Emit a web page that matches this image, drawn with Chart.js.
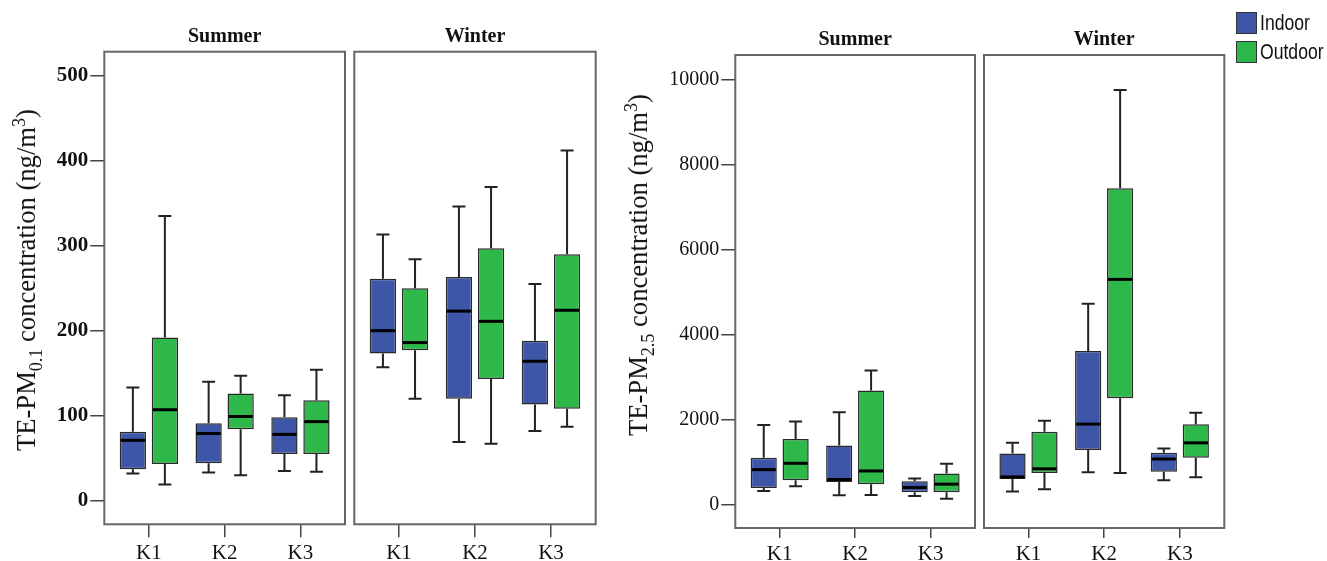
<!DOCTYPE html>
<html lang="en">
<head>
<meta charset="UTF-8" />
<title>TE-PM concentration by site and season</title>
<script src="https://cdn.jsdelivr.net/npm/chart.js"></script>
<style>
  body { margin: 0; background: #fff; }
  .page { position: relative; width: 1327px; height: 561px; overflow: hidden; font-family: 'Liberation Serif', 'Times New Roman', serif; color: #111; }
  .page canvas { position: absolute; left: 0; top: 0; }
  .ytitle {
    position: absolute; white-space: nowrap; font-size: 28px; line-height: 1;
    transform: translate(-50%, -50%) rotate(-90deg) scaleX(0.95);
  }
  .ytitle sub, .ytitle sup { font-size: 0.68em; line-height: 0; }
  .legend { position: absolute; left: 1236px; top: 12px; font-family: 'Liberation Sans', Arial, sans-serif; }
  .legend .item { display: flex; align-items: center; height: 22px; margin-bottom: 7px; }
  .legend .swatch { width: 19px; height: 20px; border: 1.5px solid #333; }
  .legend .lbl { font-size: 22px; margin-left: 3px; transform: scaleX(0.8); transform-origin: left center; }
</style>
</head>
<body>
<div class="page">
  <canvas id="pm01Summer" width="1327" height="561"></canvas>
  <canvas id="pm01Winter" width="1327" height="561"></canvas>
  <canvas id="pm25Summer" width="1327" height="561"></canvas>
  <canvas id="pm25Winter" width="1327" height="561"></canvas>
  <div class="ytitle" style="left:26px; top:280px">TE-PM<sub>0.1</sub> concentration (ng/m<sup>3</sup>)</div>
  <div class="ytitle" style="left:638px; top:265px">TE-PM<sub>2.5</sub> concentration (ng/m<sup>3</sup>)</div>
  <div class="legend">
    <div class="item"><span class="swatch" style="background:#3e56a7"></span><span class="lbl">Indoor</span></div>
    <div class="item"><span class="swatch" style="background:#2eb84a"></span><span class="lbl">Outdoor</span></div>
  </div>
</div>

<script>
  const sites = ['K1', 'K2', 'K3']
  const pm01Ticks = [0, 100, 200, 300, 400, 500]
  const pm25Ticks = [0, 2000, 4000, 6000, 8000, 10000]

  // each row: [min, q1, median, q3, max] for K1, K2, K3
  const pm01SummerIndoor = [[32, 37, 71, 81, 133], [33, 44, 79, 91, 140], [35, 55, 78, 98, 124]]
  const pm01SummerOutdoor = [[19, 43, 107, 192, 335], [30, 84, 99, 126, 147], [34, 55, 93, 118, 154]]
  const pm01WinterIndoor = [[157, 173, 200, 261, 313], [69, 120, 223, 263, 346], [82, 113, 164, 188, 255]]
  const pm01WinterOutdoor = [[120, 177, 186, 250, 284], [67, 143, 211, 297, 369], [87, 108, 224, 290, 412]]

  const pm25SummerIndoor = [[330, 400, 830, 1110, 1880], [230, 540, 600, 1400, 2180], [210, 300, 410, 560, 620]]
  const pm25SummerOutdoor = [[440, 580, 980, 1550, 1960], [235, 490, 800, 2690, 3160], [150, 300, 490, 740, 970]]
  const pm25WinterIndoor = [[320, 610, 660, 1210, 1460], [770, 1290, 1900, 3620, 4730], [580, 780, 1080, 1230, 1330]]
  const pm25WinterOutdoor = [[370, 750, 850, 1720, 1980], [750, 2510, 5300, 7440, 9750], [650, 1110, 1460, 1900, 2170]]

  const indoorColor = '#3e56a7'
  const outdoorColor = '#2eb84a'
  const serif = "'Liberation Serif', 'Times New Roman', serif"

  // whiskers, caps and median lines on top of the floating bars
  const boxParts = {
    id: 'boxParts',
    afterDatasetsDraw(chart) {
      const ctx = chart.ctx
      const y = chart.scales.y
      ctx.save()
      chart.data.datasets.forEach((ds, di) => {
        chart.getDatasetMeta(di).data.forEach((bar, i) => {
          const [lo, q1, med, q3, hi] = ds.stats[i]
          const x = bar.x
          const half = bar.width / 2
          ctx.strokeStyle = '#222'
          ctx.lineWidth = 2
          ctx.beginPath()
          ctx.moveTo(x, y.getPixelForValue(q3))
          ctx.lineTo(x, y.getPixelForValue(hi))
          ctx.moveTo(x - 6.5, y.getPixelForValue(hi))
          ctx.lineTo(x + 6.5, y.getPixelForValue(hi))
          ctx.moveTo(x, y.getPixelForValue(q1))
          ctx.lineTo(x, y.getPixelForValue(lo))
          ctx.moveTo(x - 6.5, y.getPixelForValue(lo))
          ctx.lineTo(x + 6.5, y.getPixelForValue(lo))
          ctx.stroke()
          ctx.strokeStyle = '#000'
          ctx.lineWidth = 3
          ctx.beginPath()
          ctx.moveTo(x - half + 1, y.getPixelForValue(med))
          ctx.lineTo(x + half - 1, y.getPixelForValue(med))
          ctx.stroke()
        })
      })
      ctx.restore()
    },
  }

  // full rectangle round each panel
  const panelFrame = {
    id: 'panelFrame',
    afterDraw(chart) {
      const { left, top, width, height } = chart.chartArea
      const ctx = chart.ctx
      ctx.save()
      ctx.strokeStyle = '#666'
      ctx.lineWidth = 2
      ctx.strokeRect(left, top, width, height)
      ctx.restore()
    },
  }

  function boxDataset(label, stats, color) {
    return {
      label: label,
      stats: stats,
      data: stats.map((s, i) => ({ x: i, y: [s[1], s[3]] })),
      backgroundColor: color,
      borderColor: '#2a2a2a',
      borderWidth: 1.5,
      borderSkipped: false,
      categoryPercentage: 0.845,
      barPercentage: 0.82,
    }
  }

  function makePanel(id, p) {
    return new Chart(document.getElementById(id), {
      type: 'bar',
      data: {
        datasets: [boxDataset('Indoor', p.indoor, indoorColor), boxDataset('Outdoor', p.outdoor, outdoorColor)],
      },
      plugins: [boxParts, panelFrame],
      options: {
        responsive: false,
        animation: false,
        events: [],
        layout: { padding: { left: p.padLeft, right: p.padRight, top: 0, bottom: 0 } },
        plugins: {
          legend: { display: false },
          tooltip: { enabled: false },
          title: {
            display: true,
            text: p.title,
            fullSize: false,
            color: '#111',
            font: { family: serif, size: 20, weight: 'bold' },
            padding: { top: p.titleTop, bottom: p.titleBottom },
          },
        },
        scales: {
          x: {
            type: 'linear',
            offset: false,
            min: -0.588,
            max: 2.588,
            afterBuildTicks: (s) => {
              s.ticks = sites.map((_, i) => ({ value: i }))
            },
            afterFit: (s) => {
              s.height = p.xHeight
            },
            ticks: {
              callback: (v) => sites[v],
              color: '#111',
              font: { family: serif, size: 21 },
              padding: 4,
              maxRotation: 0,
              autoSkip: false,
            },
            grid: { offset: false, drawOnChartArea: false, tickLength: p.xTick, color: '#444', lineWidth: 1.5 },
            border: { display: false },
          },
          y: {
            display: p.showY,
            min: p.yMin,
            max: p.yMax,
            afterBuildTicks: (s) => {
              s.ticks = p.yTicks.map((v) => ({ value: v }))
            },
            afterFit: (s) => {
              s.width = p.yWidth
            },
            ticks: {
              callback: (v) => String(v),
              color: '#111',
              font: { family: serif, size: p.yFont, weight: p.yWeight },
              padding: 2,
            },
            grid: { drawOnChartArea: false, tickLength: 14, color: '#444', lineWidth: 1.5 },
            border: { display: false },
          },
        },
      },
    })
  }

  const pm01Range = { yMin: -27.8, yMax: 528.2, yTicks: pm01Ticks, yFont: 21, yWeight: 'bold', titleTop: 24.5, titleBottom: 3.2, xHeight: 36.7, xTick: 13 }
  const pm25Range = { yMin: -540, yMax: 10571, yTicks: pm25Ticks, yFont: 20, yWeight: 'normal', titleTop: 28, titleBottom: 3, xHeight: 33, xTick: 10 }

  makePanel('pm01Summer', { ...pm01Range, title: 'Summer', indoor: pm01SummerIndoor, outdoor: pm01SummerOutdoor, showY: true, yWidth: 104.3, padLeft: 0, padRight: 1327 - 345 })
  makePanel('pm01Winter', { ...pm01Range, title: 'Winter', indoor: pm01WinterIndoor, outdoor: pm01WinterOutdoor, showY: false, yWidth: 0, padLeft: 354.3, padRight: 1327 - 595.7 })
  makePanel('pm25Summer', { ...pm25Range, title: 'Summer', indoor: pm25SummerIndoor, outdoor: pm25SummerOutdoor, showY: true, yWidth: 115.3, padLeft: 620, padRight: 1327 - 975 })
  makePanel('pm25Winter', { ...pm25Range, title: 'Winter', indoor: pm25WinterIndoor, outdoor: pm25WinterOutdoor, showY: false, yWidth: 0, padLeft: 984, padRight: 1327 - 1224.3 })
</script>
</body>
</html>
